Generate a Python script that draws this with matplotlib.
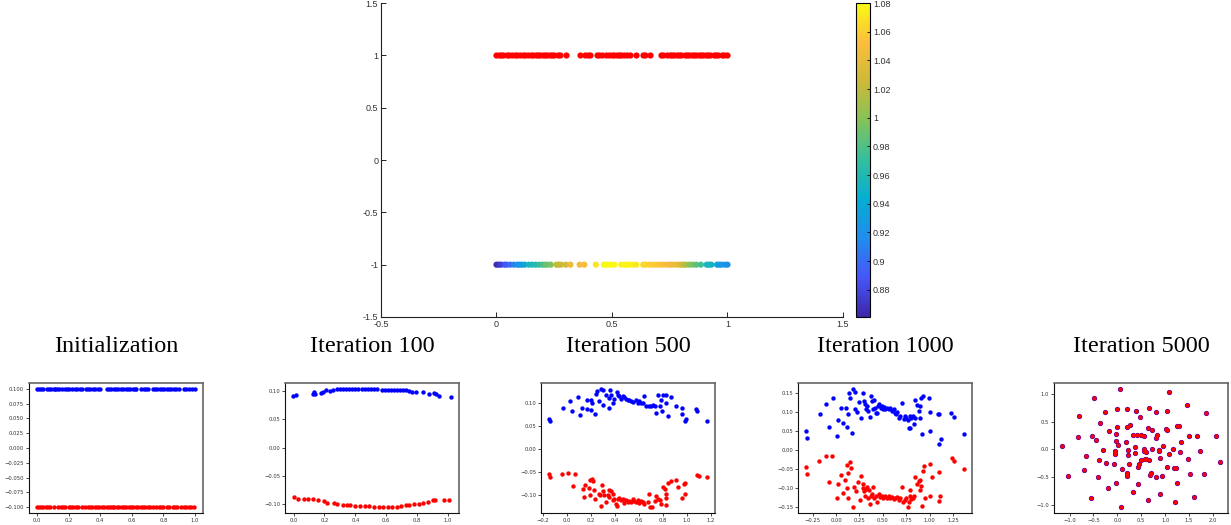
import numpy as np
import matplotlib
matplotlib.use("Agg")
import matplotlib.pyplot as plt
from matplotlib.colors import LinearSegmentedColormap

# ---- top panel: two rows of points, bottom row coloured by value ----
top_x = [0.0, 0.01, 0.02, 0.03, 0.045, 0.055, 0.065, 0.08, 0.09, 0.1, 0.115, 0.125,
         0.135, 0.15, 0.16, 0.17, 0.18, 0.19, 0.2, 0.21, 0.22, 0.23, 0.24, 0.25,
         0.265, 0.275, 0.30, 0.36, 0.385, 0.395, 0.405, 0.435, 0.445, 0.455, 0.475,
         0.485, 0.5, 0.51, 0.52, 0.53, 0.54, 0.55, 0.565, 0.58, 0.605, 0.635, 0.645,
         0.665, 0.71, 0.72, 0.74, 0.75, 0.76, 0.77, 0.78, 0.79, 0.8, 0.815, 0.825,
         0.835, 0.845, 0.855, 0.865, 0.875, 0.885, 0.895, 0.905, 0.915, 0.925, 0.94,
         0.95, 0.96, 0.975, 0.985, 1.0]

bot_x = [0.0, 0.01, 0.02, 0.035, 0.045, 0.06, 0.075, 0.09, 0.1, 0.11, 0.122,
         0.14, 0.155, 0.17, 0.185, 0.2, 0.21, 0.22, 0.235, 0.26, 0.27, 0.28, 0.3,
         0.32, 0.36, 0.38, 0.43, 0.465, 0.475, 0.485, 0.495, 0.51, 0.54, 0.555,
         0.565, 0.575, 0.59, 0.605, 0.635, 0.645, 0.66, 0.675, 0.69, 0.705, 0.72,
         0.735, 0.75, 0.76, 0.775, 0.79, 0.8, 0.81, 0.82, 0.835, 0.85, 0.865, 0.885,
         0.91, 0.92, 0.93, 0.955, 0.965, 0.975, 0.99, 1.0]
bot_c = [0.865, 0.868, 0.875, 0.885, 0.89, 0.9, 0.91, 0.92, 0.925, 0.93, 0.935,
         0.955, 0.958, 0.962, 0.968, 0.975, 0.985, 0.99, 0.995, 1.02, 1.022, 1.025,
         1.03, 1.045, 1.048, 1.05, 1.07, 1.078, 1.08, 1.08, 1.08, 1.078, 1.076,
         1.077, 1.078, 1.076, 1.075, 1.072, 1.066, 1.064, 1.062, 1.06, 1.058, 1.055,
         1.052, 1.05, 1.047, 1.045, 1.042, 1.035, 1.03, 1.022, 1.015, 1.0, 0.995,
         0.985, 0.975, 0.958, 0.955, 0.952, 0.935, 0.93, 0.925, 0.922, 0.92]

cbar_ticks = [0.88, 0.9, 0.92, 0.94, 0.96, 0.98, 1.0, 1.02, 1.04, 1.06, 1.08]
cbar_labels = ["0.88", "0.9", "0.92", "0.94", "0.96", "0.98", "1", "1.02", "1.04", "1.06", "1.08"]

# ---- bottom row ----
titles = ["Initialization", "Iteration 100", "Iteration 500", "Iteration 1000", "Iteration 5000"]

init_blue_x = [0.0, 0.012, 0.025, 0.04, 0.063, 0.075, 0.09, 0.105, 0.115, 0.126, 0.14,
               0.157, 0.178, 0.19, 0.205, 0.22, 0.24, 0.255, 0.27, 0.282, 0.31, 0.322,
               0.335, 0.356, 0.37, 0.385, 0.397, 0.44, 0.455, 0.47, 0.485, 0.5, 0.515,
               0.53, 0.545, 0.56, 0.575, 0.59, 0.605, 0.618, 0.628, 0.66, 0.675, 0.69,
               0.70, 0.732, 0.745, 0.76, 0.775, 0.79, 0.805, 0.82, 0.835, 0.85, 0.865,
               0.88, 0.9, 0.93, 0.945, 0.96, 0.98, 1.0]
init_red_x = [0.0, 0.012, 0.025, 0.04, 0.055, 0.07, 0.085, 0.105, 0.136, 0.15, 0.165,
              0.178, 0.2, 0.215, 0.23, 0.245, 0.26, 0.282, 0.303, 0.32, 0.335, 0.35,
              0.365, 0.38, 0.395, 0.41, 0.425, 0.44, 0.455, 0.47, 0.48, 0.49, 0.505,
              0.52, 0.535, 0.55, 0.565, 0.58, 0.595, 0.61, 0.625, 0.64, 0.655, 0.67,
              0.685, 0.7, 0.715, 0.732, 0.753, 0.77, 0.785, 0.8, 0.82, 0.837, 0.858,
              0.87, 0.885, 0.91, 0.93, 0.945, 0.96, 0.975, 0.994]

it100_blue_x = [-0.004, 0.015, 0.124, 0.135, 0.137, 0.176, 0.189, 0.21, 0.236, 0.258,
                0.28, 0.3, 0.32, 0.34, 0.36, 0.38, 0.4, 0.42, 0.44, 0.46, 0.48, 0.5,
                0.52, 0.54, 0.57, 0.59, 0.61, 0.63, 0.65, 0.67, 0.69, 0.71, 0.73, 0.75,
                0.766, 0.794, 0.837, 0.876, 0.908, 0.923, 0.944, 1.019]
it100_blue_y = [0.0917, 0.0935, 0.0946, 0.0988, 0.095, 0.097, 0.099, 0.102, 0.1006,
                0.102, 0.1036, 0.1036, 0.1038, 0.1036, 0.1035, 0.1036, 0.1034, 0.1036,
                0.1035, 0.1034, 0.1033, 0.1032, 0.103, 0.103, 0.1024, 0.1024, 0.1022,
                0.1022, 0.102, 0.1018, 0.1016, 0.1014, 0.101, 0.1006, 0.099, 0.099,
                0.0976, 0.094, 0.0964, 0.094, 0.0917, 0.0899]
it100_red_x = [0.0, 0.028, 0.069, 0.097, 0.129, 0.161, 0.2, 0.215, 0.26, 0.283, 0.32,
               0.345, 0.365, 0.4, 0.43, 0.46, 0.49, 0.52, 0.55, 0.58, 0.61, 0.64, 0.67,
               0.697, 0.73, 0.75, 0.78, 0.815, 0.837, 0.87, 0.9, 0.918, 0.976, 1.004]
it100_red_y = [-0.088, -0.0905, -0.090, -0.090, -0.0905, -0.0917, -0.0935, -0.0976,
               -0.0976, -0.099, -0.1006, -0.1014, -0.102, -0.1026, -0.103, -0.1033,
               -0.1036, -0.1042, -0.1046, -0.105, -0.105, -0.105, -0.1045, -0.103,
               -0.102, -0.1006, -0.099, -0.1, -0.0976, -0.096, -0.093, -0.0917,
               -0.0917, -0.0917]

it500_blue_x = [-0.148, -0.142, -0.028, 0.028, 0.047, 0.098, 0.112, 0.126, 0.168, 0.173,
                0.201, 0.204, 0.215, 0.237, 0.243, 0.249, 0.271, 0.285, 0.304, 0.299,
                0.327, 0.355, 0.36, 0.369, 0.355, 0.383, 0.397, 0.416, 0.425, 0.439,
                0.452, 0.466, 0.48, 0.494, 0.508, 0.522, 0.536, 0.55, 0.578, 0.592,
                0.606, 0.62, 0.634, 0.648, 0.662, 0.684, 0.704, 0.723, 0.732, 0.746,
                0.76, 0.774, 0.788, 0.793, 0.802, 0.83, 0.824, 0.844, 0.872, 0.908,
                0.964, 0.964, 0.983, 0.992, 1.075, 1.087, 1.17]
it500_blue_y = [0.066, 0.061, 0.090, 0.104, 0.082, 0.114, 0.074, 0.090, 0.107, 0.088,
                0.107, 0.085, 0.1, 0.076, 0.120, 0.126, 0.105, 0.131, 0.129, 0.0956,
                0.118, 0.111, 0.129, 0.118, 0.090, 0.101, 0.109, 0.124, 0.118, 0.116,
                0.109, 0.116, 0.1125, 0.110, 0.107, 0.107, 0.105, 0.103, 0.107, 0.101,
                0.104, 0.101, 0.1, 0.116, 0.094, 0.093, 0.093, 0.096, 0.094, 0.079,
                0.118, 0.093, 0.107, 0.083, 0.118, 0.118, 0.1, 0.072, 0.1125, 0.094,
                0.090, 0.076, 0.06, 0.065, 0.087, 0.082, 0.062]
it500_red_x = [-0.148, -0.14, -0.042, 0.011, 0.07, 0.053, 0.137, 0.154, 0.145, 0.187,
               0.196, 0.21, 0.22, 0.229, 0.193, 0.237, 0.271, 0.279, 0.285, 0.293,
               0.299, 0.313, 0.327, 0.341, 0.349, 0.355, 0.369, 0.383, 0.388, 0.397,
               0.41, 0.416, 0.425, 0.439, 0.452, 0.466, 0.48, 0.494, 0.508, 0.522,
               0.536, 0.55, 0.564, 0.578, 0.592, 0.606, 0.62, 0.634, 0.648, 0.676,
               0.69, 0.696, 0.712, 0.732, 0.746, 0.76, 0.774, 0.788, 0.802, 0.816,
               0.824, 0.83, 0.83, 0.844, 0.872, 0.913, 0.927, 0.964, 0.978, 0.989,
               0.983, 1.087, 1.103, 1.17]
it500_red_y = [-0.0544, -0.06, -0.0537, -0.052, -0.0544, -0.081, -0.088, -0.0794,
               -0.104, -0.086, -0.0676, -0.0654, -0.07, -0.0897, -0.1007, -0.11,
               -0.0971, -0.1007, -0.1235, -0.0787, -0.0912, -0.1007, -0.1154, -0.1007,
               -0.0897, -0.104, -0.092, -0.097, -0.1118, -0.108, -0.119, -0.125,
               -0.108, -0.106, -0.112, -0.108, -0.1176, -0.112, -0.1154, -0.113,
               -0.1154, -0.1096, -0.113, -0.1154, -0.112, -0.1176, -0.113, -0.1154,
               -0.119, -0.1154, -0.0985, -0.1265, -0.1265, -0.113, -0.1025, -0.108,
               -0.112, -0.1206, -0.0838, -0.088, -0.122, -0.097, -0.106, -0.075,
               -0.069, -0.0676, -0.0824, -0.106, -0.0765, -0.075, -0.0985, -0.0566,
               -0.0588, -0.060]

it1000_blue_x = [-0.321, -0.314, -0.171, -0.107, -0.075, -0.036, 0.014, 0.018, 0.057,
                 0.079, 0.107, 0.121, 0.125, 0.139, 0.15, 0.175, 0.179, 0.207, 0.204,
                 0.221, 0.25, 0.264, 0.286, 0.304, 0.311, 0.318, 0.329, 0.346, 0.364,
                 0.371, 0.386, 0.4, 0.411, 0.418, 0.429, 0.436, 0.446, 0.464, 0.479,
                 0.489, 0.5, 0.514, 0.525, 0.543, 0.561, 0.579, 0.596, 0.614, 0.625,
                 0.639, 0.65, 0.668, 0.686, 0.704, 0.721, 0.739, 0.75, 0.764, 0.775,
                 0.786, 0.793, 0.804, 0.818, 0.829, 0.839, 0.846, 0.864, 0.882, 0.893,
                 0.9, 0.911, 0.918, 0.929, 0.989, 1.007, 1.007, 1.089, 1.096, 1.104,
                 1.121, 1.232, 1.257, 1.368]
it1000_blue_y = [0.05, 0.034, 0.097, 0.123, 0.063, 0.1375, 0.038, 0.079, 0.113, 0.072,
                 0.111, 0.063, 0.095, 0.151, 0.139, 0.047, 0.162, 0.155, 0.11, 0.102,
                 0.128, 0.086, 0.151, 0.130, 0.121, 0.11, 0.117, 0.104, 0.088, 0.142,
                 0.129, 0.108, 0.133, 0.113, 0.099, 0.099, 0.117, 0.121, 0.1125, 0.117,
                 0.11, 0.115, 0.108, 0.1125, 0.108, 0.1125, 0.104, 0.108, 0.099, 0.095,
                 0.101, 0.086, 0.09, 0.124, 0.084, 0.09, 0.086, 0.081, 0.059, 0.09,
                 0.059, 0.086, 0.09, 0.07, 0.086, 0.133, 0.119, 0.104, 0.117, 0.086,
                 0.139, 0.044, 0.144, 0.1375, 0.102, 0.052, 0.097, 0.095, 0.017, 0.03,
                 0.098, 0.0875, 0.044]
it1000_red_x = [-0.321, -0.307, -0.179, -0.107, -0.075, -0.046, 0.014, 0.018, 0.05,
                0.079, 0.096, 0.121, 0.125, 0.132, 0.121, 0.15, 0.161, 0.179, 0.196,
                0.214, 0.239, 0.257, 0.268, 0.286, 0.293, 0.304, 0.311, 0.318, 0.336,
                0.346, 0.357, 0.364, 0.371, 0.386, 0.4, 0.411, 0.429, 0.436, 0.454,
                0.471, 0.489, 0.507, 0.525, 0.543, 0.561, 0.579, 0.596, 0.614, 0.632,
                0.65, 0.668, 0.686, 0.704, 0.714, 0.732, 0.75, 0.764, 0.775, 0.786,
                0.793, 0.804, 0.818, 0.829, 0.846, 0.864, 0.882, 0.893, 0.9, 0.911,
                0.918, 0.929, 0.936, 0.954, 1.007, 1.025, 1.007, 1.096, 1.114, 1.096,
                1.239, 1.264, 1.364]
it1000_red_y = [-0.044, -0.062, -0.028, -0.015, -0.084, -0.015, -0.126, -0.088, -0.064,
                -0.111, -0.077, -0.099, -0.126, -0.059, -0.039, -0.03, -0.046, -0.149,
                -0.097, -0.106, -0.084, -0.13, -0.066, -0.088, -0.099, -0.106, -0.12,
                -0.102, -0.096, -0.124, -0.104, -0.14, -0.12, -0.115, -0.097, -0.126,
                -0.12, -0.135, -0.115, -0.122, -0.12, -0.124, -0.12, -0.126, -0.12,
                -0.124, -0.122, -0.129, -0.126, -0.122, -0.13, -0.126, -0.097, -0.135,
                -0.131, -0.126, -0.149, -0.135, -0.12, -0.104, -0.129, -0.124, -0.12,
                -0.069, -0.088, -0.081, -0.104, -0.079, -0.093, -0.146, -0.053, -0.042,
                -0.124, -0.035, -0.07, -0.12, -0.057, -0.12, -0.133, -0.021, -0.028,
                -0.048]

it5000_x = [-1.161, -1.035, -0.825, -0.804, -0.664, -0.699, -0.545, -0.524, -0.483,
            -0.441, -0.406, -0.385, -0.357, -0.301, -0.259, -0.231, -0.203, -0.175,
            -0.077, -0.056, -0.042, -0.035, -0.021, -0.021, -0.007, -0.007, 0.014,
            0.049, 0.084, 0.105, 0.189, 0.203, 0.21, 0.224, 0.224, 0.21, 0.21, 0.245,
            0.273, 0.329, 0.329, 0.364, 0.364, 0.385, 0.42, 0.434, 0.441, 0.448, 0.469,
            0.503, 0.503, 0.552, 0.559, 0.559, 0.587, 0.608, 0.608, 0.643, 0.643,
            0.657, 0.664, 0.692, 0.713, 0.734, 0.734, 0.804, 0.818, 0.818, 0.839,
            0.874, 0.874, 0.888, 0.888, 0.923, 0.958, 1.014, 1.028, 1.042, 1.028, 1.07,
            1.084, 1.154, 1.182, 1.224, 1.203, 1.238, 1.252, 1.294, 1.308, 1.322,
            1.462, 1.483, 1.503, 1.517, 1.608, 1.657, 1.727, 1.811, 1.853, 2.063, 2.147]
it5000_y = [0.066, -0.476, 0.217, 0.608, -0.114, -0.367, -0.867, 0.247, 0.922, 0.169,
            -0.488, -0.187, 0.47, -0.006, 0.669, -0.247, -0.687, 0.325, -0.265, -0.024,
            -0.084, -0.608, 0.277, 0.157, 0.398, 0.729, 0.078, 1.09, -1.036, -0.343,
            0.139, -0.416, -0.476, -0.006, -0.096, 0.398, 0.729, -0.253, 0.44, -0.765,
            0.259, 0.042, -0.072, 0.699, 0.259, -0.307, -0.614, -0.265, 0.59, -0.187,
            0.259, 0.235, 0.012, -0.024, -0.175, -0.054, -0.175, 0.386, -0.916, -0.187,
            0.747, -0.458, -0.428, 0.355, 0.006, -0.494, 0.669, 0.199, 0.259, -0.006,
            -0.024, -0.157, -0.795, -0.476, 0.066, 0.367, -0.307, 0.699, 0.349, -0.084,
            1.042, 0.006, -0.325, -0.325, -0.94, -0.608, 0.428, 0.428, -0.054, 0.127,
            0.801, -0.175, 0.247, -0.446, -0.855, 0.247, -0.036, -0.446, 0.651, 0.247,
            -0.223]

# parula-like colormap
parula = LinearSegmentedColormap.from_list("parula_like", [
    (0.000, (0.24, 0.15, 0.66)),
    (0.125, (0.27, 0.34, 0.98)),
    (0.250, (0.13, 0.55, 0.93)),
    (0.375, (0.02, 0.68, 0.83)),
    (0.500, (0.20, 0.75, 0.62)),
    (0.625, (0.52, 0.76, 0.35)),
    (0.750, (0.80, 0.73, 0.22)),
    (0.875, (0.99, 0.74, 0.24)),
    (1.000, (0.98, 0.98, 0.08)),
])

fig = plt.figure(figsize=(12.31, 5.25), dpi=100)

ax = fig.add_axes([0.3095, 0.3962, 0.3753, 0.598])
ax.scatter(top_x, [1] * len(top_x), s=20, color="red", linewidths=0)
sc = ax.scatter(bot_x, [-1] * len(bot_x), c=bot_c, cmap=parula, vmin=0.861, vmax=1.08,
                s=20, linewidths=0)
ax.set_xlim(-0.5, 1.5)
ax.set_ylim(-1.5, 1.5)
ax.set_xticks([-0.5, 0, 0.5, 1, 1.5])
ax.set_xticklabels(["-0.5", "0", "0.5", "1", "1.5"])
ax.set_yticks([-1.5, -1, -0.5, 0, 0.5, 1, 1.5])
ax.set_yticklabels(["-1.5", "-1", "-0.5", "0", "0.5", "1", "1.5"])
for side in ["top", "right"]:
    ax.spines[side].set_visible(False)
for side in ["left", "bottom"]:
    ax.spines[side].set_linewidth(0.8)
    ax.spines[side].set_color("#222222")
ax.tick_params(direction="in", length=3.5, width=0.6, labelsize=6.5,
               labelcolor="#333333", pad=2)
for lab in ax.get_xticklabels() + ax.get_yticklabels():
    lab.set_family("Liberation Sans")

cax = fig.add_axes([0.6954, 0.3962, 0.0114, 0.598])
cb = fig.colorbar(sc, cax=cax)
cb.set_ticks(cbar_ticks)
cb.set_ticklabels(cbar_labels)
cb.outline.set_linewidth(0.8)
cax.tick_params(direction="in", length=2.5, width=0.6, labelsize=6.5,
                labelcolor="#333333", pad=2)
for lab in cax.get_yticklabels():
    lab.set_family("Liberation Sans")

# small panels
lefts = [0.0236, 0.2315, 0.4395, 0.6483, 0.8562]
panels = [
    (init_blue_x, [0.1] * len(init_blue_x), init_red_x, [-0.1] * len(init_red_x)),
    (it100_blue_x, it100_blue_y, it100_red_x, it100_red_y),
    (it500_blue_x, it500_blue_y, it500_red_x, it500_red_y),
    (it1000_blue_x, it1000_blue_y, it1000_red_x, it1000_red_y),
    (it5000_x, it5000_y, it5000_x, it5000_y),
]
for i, (left, title, (bx, by, rx, ry)) in enumerate(zip(lefts, titles, panels)):
    a = fig.add_axes([left, 0.0229, 0.1413, 0.2476])
    # last panel: both sets coincide, blue shows as a thin rim under red
    a.scatter(bx, by, s=14 if i == 4 else 10, color="blue", linewidths=0)
    a.scatter(rx, ry, s=10, color="red", linewidths=0)
    a.tick_params(labelsize=3.8, length=2, width=0.5, pad=1.5, labelcolor="#333333")
    for side in ["left", "bottom"]:
        a.spines[side].set_linewidth(0.8)
        a.spines[side].set_color("#111111")
    for side in ["top", "right"]:
        a.spines[side].set_linewidth(1.2)
        a.spines[side].set_color("#666666")
    fig.text(left + 0.1413 / 2, 0.34, title, ha="center", va="center",
             fontsize=17.5, family="Liberation Serif")

fig.savefig("out.png", dpi=100)
